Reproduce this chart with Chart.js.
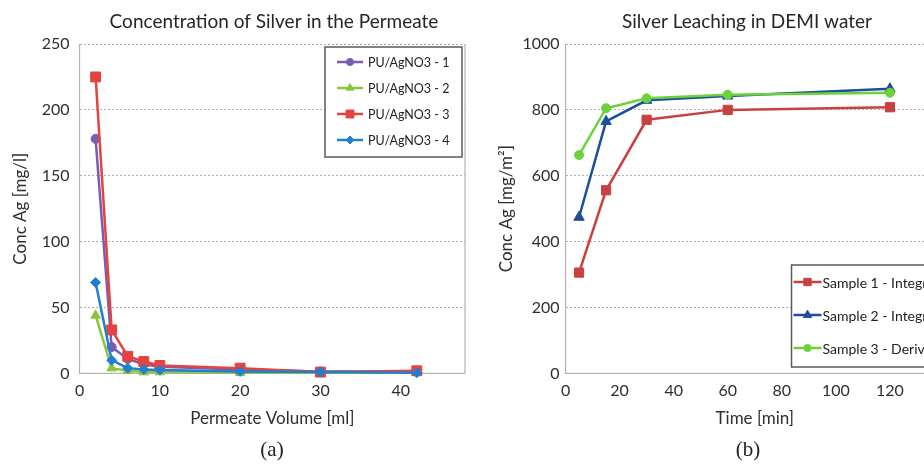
<!DOCTYPE html>
<html>
<head>
<meta charset="utf-8">
<script src="https://cdn.jsdelivr.net/npm/chart.js@4/dist/chart.umd.min.js"></script>
<style>
  html, body { margin: 0; padding: 0; width: 924px; height: 465px; overflow: hidden; background: #fff; }
  #wrap { position: relative; width: 924px; height: 465px; overflow: hidden; }
  canvas { position: absolute; top: 0; }
  #c1 { left: 0; }
  #c2 { left: 470px; }
  .cap { position: absolute; font-family: "Liberation Serif", "DejaVu Serif", serif; font-size: 21px; color: #222; transform: translateX(-50%); top: 437px; }
</style>
</head>
<body>
<div id="wrap">
  <canvas id="c1" width="544" height="465"></canvas>
  <canvas id="c2" width="554" height="465"></canvas>
  <div class="cap" style="left:272px">(a)</div>
  <div class="cap" style="left:748px">(b)</div>
</div>
<script>
// ---- data (a) ----
const volume = [2, 4, 6, 8, 10, 20, 30, 42];
const pu1 = [178, 20, 11, 7, 5, 3, 1.5, 1.5];
const pu2 = [44, 4, 2, 1, 1, 0.5, 0.5, 0.5];
const pu3 = [225, 33, 13, 9, 6, 4, 1, 2];
const pu4 = [69, 10, 4, 3, 2.5, 1.5, 1, 0.5];
const labelsA = ['PU/AgNO3 - 1', 'PU/AgNO3 - 2', 'PU/AgNO3 - 3', 'PU/AgNO3 - 4'];
const yTicksA = [0, 50, 100, 150, 200, 250];
const xTicksA = [0, 10, 20, 30, 40];

// ---- data (b) ----
const time = [5, 15, 30, 60, 120];
const s1 = [306, 556, 770, 800, 808];
const s2 = [474, 765, 829, 842, 864];
const s3 = [663, 805, 835, 846, 852];
const labelsB = ['Sample 1 - Integral', 'Sample 2 - Integral', 'Sample 3 - Derivative'];
const yTicksB = [0, 200, 400, 600, 800, 1000];
const xTicksB = [0, 20, 40, 60, 80, 100, 120, 140];

Chart.defaults.font.family = 'Lato, "Open Sans", sans-serif';
Chart.defaults.color = '#2e2e2e';

function pts(xs, ys) { return xs.map((x, i) => ({ x: x, y: ys[i] })); }

function drawMarker(ctx, style, x, y, r, color) {
  ctx.save();
  ctx.fillStyle = color; ctx.strokeStyle = color; ctx.lineWidth = 1;
  ctx.beginPath();
  if (style === 'circle') { ctx.arc(x, y, r, 0, Math.PI * 2); }
  else if (style === 'rect') { const s = r * Math.SQRT1_2; ctx.rect(x - s, y - s, 2 * s, 2 * s); }
  else if (style === 'rectRot') { ctx.moveTo(x, y - r); ctx.lineTo(x + r, y); ctx.lineTo(x, y + r); ctx.lineTo(x - r, y); ctx.closePath(); }
  else if (style === 'triangle') {
    ctx.moveTo(x, y - r); ctx.lineTo(x + r * 0.866, y + r * 0.5); ctx.lineTo(x - r * 0.866, y + r * 0.5); ctx.closePath();
  }
  ctx.fill(); ctx.stroke();
  ctx.restore();
}

const boxLegend = {
  id: 'boxLegend',
  afterDraw(chart, args, o) {
    const ctx = chart.ctx, a = chart.chartArea;
    const x = (o.fromRight ? a.right : a.left) + o.dx, y = a.top + o.dy;
    ctx.save();
    ctx.fillStyle = '#fff';
    ctx.fillRect(x, y, o.w, o.h);
    ctx.strokeStyle = '#5a5a5a'; ctx.lineWidth = 1.5;
    ctx.strokeRect(x, y, o.w, o.h);
    ctx.font = o.font;
    ctx.textBaseline = 'middle'; ctx.textAlign = 'left';
    chart.data.datasets.forEach((ds, i) => {
      const cy = y + o.first + i * o.row;
      ctx.strokeStyle = ds.borderColor; ctx.lineWidth = 2.5;
      ctx.beginPath(); ctx.moveTo(x + o.lx0, cy); ctx.lineTo(x + o.lx1, cy); ctx.stroke();
      drawMarker(ctx, ds.pointStyle, x + (o.lx0 + o.lx1) / 2, cy, ds.pointRadius * 0.8, ds.borderColor);
      ctx.fillStyle = '#222';
      ctx.fillText(ds.label, x + o.tx, cy + 1);
    });
    ctx.restore();
  }
};

const plotFrame = {
  id: 'plotFrame',
  beforeDatasetsDraw(chart) {
    const ctx = chart.ctx, a = chart.chartArea;
    ctx.save();
    ctx.strokeStyle = '#b4b4b4'; ctx.lineWidth = 1.2;
    ctx.beginPath();
    ctx.moveTo(a.left, a.top); ctx.lineTo(a.left, a.bottom); ctx.lineTo(a.right, a.bottom); ctx.lineTo(a.right, a.top);
    ctx.stroke();
    ctx.restore();
  }
};

function keepTicks(list) {
  return function (scale) { scale.ticks = list.map(v => ({ value: v })); };
}

function ds(label, xs, ys, color, style, r, order) {
  return { label: label, data: pts(xs, ys), borderColor: color, backgroundColor: color,
    pointBackgroundColor: color, pointBorderColor: color, pointStyle: style, pointRadius: r,
    pointBorderWidth: 1, borderWidth: 2.5, tension: 0, order: order, clip: false };
}

function axes(xMax, yMax, xTicks, yTicks, xTitle, yTitle, yPad, yTitlePad, rightSpace) {
  return {
    x: { type: 'linear', min: 0, max: xMax, afterBuildTicks: keepTicks(xTicks),
      grid: { display: false, drawTicks: false }, border: { display: false },
      ticks: { padding: 8, font: { size: 16 }, callback: v => String(v) },
      title: { display: true, text: xTitle, font: { size: 17 }, padding: { top: 0, bottom: 0 } } },
    y: { type: 'linear', min: 0, max: yMax, afterBuildTicks: keepTicks(yTicks),
      grid: { color: '#b0b0b0', lineWidth: 1, drawTicks: false }, border: { display: false, dash: [2, 2] },
      ticks: { padding: yPad, font: { size: 16 }, callback: v => String(v) },
      title: { display: true, text: yTitle, font: { size: 17 }, padding: yTitlePad } },
    yR: { type: 'linear', position: 'right', min: 0, max: 1, display: true,
      grid: { display: false, drawTicks: false }, border: { display: false }, ticks: { display: false },
      afterFit: s => { s.width = rightSpace; } }
  };
}

new Chart(document.getElementById('c1'), {
  type: 'line',
  data: { datasets: [
    ds(labelsA[0], volume, pu1, '#7b5cb4', 'circle', 4.5, 4),
    ds(labelsA[1], volume, pu2, '#8cc43e', 'triangle', 5.5, 3),
    ds(labelsA[2], volume, pu3, '#e4433f', 'rect', 7, 2),
    ds(labelsA[3], volume, pu4, '#1f80d2', 'rectRot', 5, 1)
  ] },
  options: {
    responsive: false, animation: false, events: [],
    layout: { padding: { left: 4, right: 0, top: 0, bottom: 36 } },
    plugins: {
      legend: { display: false }, tooltip: { enabled: false },
      title: { display: true, text: 'Concentration of Silver in the Permeate', font: { size: 19, weight: 'normal' }, color: '#262626', padding: { top: 10.6, bottom: 10.6 } },
      boxLegend: { fromRight: true, dx: -140, dy: 3, w: 137, h: 110, first: 15, row: 26, lx0: 12, lx1: 38, tx: 43, font: '12.5px Lato' }
    },
    scales: axes(48, 250, xTicksA, yTicksA, 'Permeate Volume [ml]', 'Conc Ag [mg/l]', 10, { top: 6.8, bottom: 0.5 }, 79)
  },
  plugins: [plotFrame, boxLegend]
});

new Chart(document.getElementById('c2'), {
  type: 'line',
  data: { datasets: [
    ds(labelsB[0], time, s1, '#c8413f', 'rect', 6.5, 3),
    ds(labelsB[1], time, s2, '#1b4f99', 'triangle', 6, 2),
    ds(labelsB[2], time, s3, '#6cd23c', 'circle', 4.5, 1)
  ] },
  options: {
    responsive: false, animation: false, events: [],
    layout: { padding: { left: 0, right: 0, top: 0, bottom: 36 } },
    plugins: {
      legend: { display: false }, tooltip: { enabled: false },
      title: { display: true, text: 'Silver Leaching in DEMI water', font: { size: 19, weight: 'normal' }, color: '#262626', padding: { top: 10.6, bottom: 10.6 } },
      boxLegend: { fromRight: false, dx: 226, dy: 221, w: 220, h: 102, first: 17, row: 33, lx0: 2, lx1: 30, tx: 31, font: '14px Lato' }
    },
    scales: axes(140, 1000, xTicksB, yTicksB, 'Time [min]', 'Conc Ag [mg/m²]', 6, { top: 26, bottom: 0 }, 80)
  },
  plugins: [plotFrame, boxLegend]
});
</script>
</body>
</html>
